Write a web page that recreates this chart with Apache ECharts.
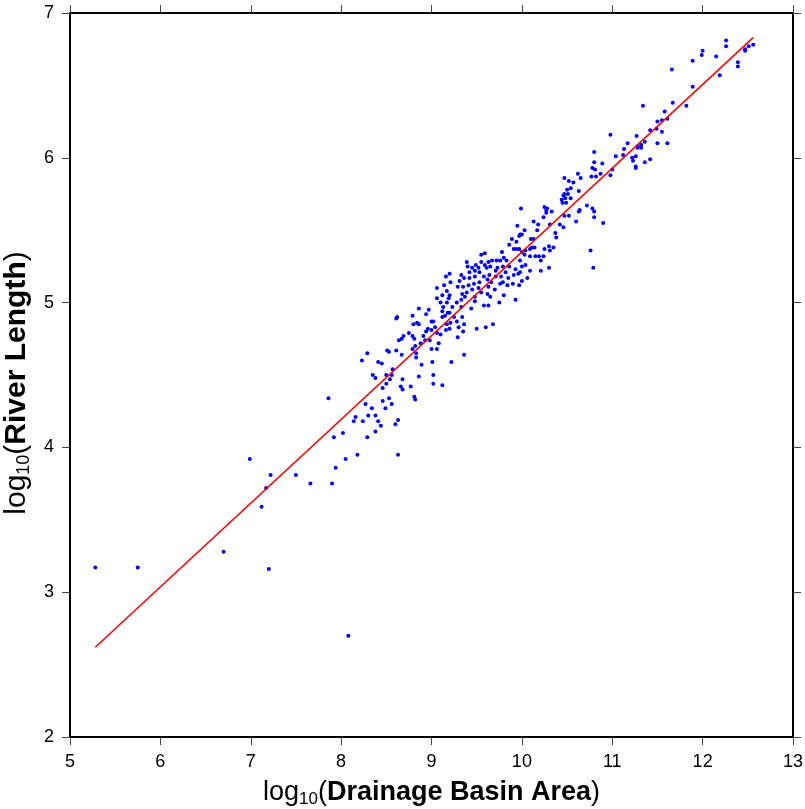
<!DOCTYPE html>
<html>
<head>
<meta charset="utf-8">
<script src="https://cdn.jsdelivr.net/npm/echarts@6/dist/echarts.min.js"></script>
<style>html,body{margin:0;padding:0;background:#fff}#c{width:805px;height:809px}</style>
</head>
<body>
<div id="c"></div>
<script>
// log10(Drainage Basin Area), log10(River Length) observations
const basinLength = [
[5.28,3.17],[5.75,3.17],[6.70,3.28],[6.99,3.92],[7.22,3.81],[7.17,3.72],[7.12,3.59],[7.20,3.16],[7.50,3.81],[7.66,3.75],[8.08,2.70],
[7.90,3.75],[7.94,3.86],[8.05,3.92],[8.18,3.95],[7.86,4.34],[7.92,4.07],[8.02,4.10],[8.29,4.07],[8.38,4.11],[8.44,4.15],[8.41,4.18],[8.38,4.22],[8.30,4.22],[8.24,4.18],[8.14,4.18],[8.16,4.21],[8.27,4.30],[8.34,4.27],[8.49,4.27],[8.46,4.32],[8.56,4.30],[8.60,4.16],[8.63,4.19],[8.63,3.95],[8.82,4.33],
[8.23,4.60],[8.29,4.65],[8.35,4.50],[8.38,4.48],[8.41,4.59],[8.45,4.58],[8.51,4.67],[8.53,4.66],[8.57,4.54],[8.56,4.50],[8.50,4.50],[8.54,4.47],[8.50,4.44],[8.46,4.41],[8.53,4.34],[8.66,4.42],[8.68,4.40],[8.68,4.47],[8.67,4.64],[8.61,4.67],
[8.67,4.75],[8.64,4.74],[8.62,4.90],[8.61,4.89],[8.69,4.77],[8.75,4.79],[8.79,4.77],[8.81,4.75],[8.79,4.68],[8.82,4.70],[8.83,4.65],[8.83,4.62],[8.77,4.42],[8.81,4.35],[8.86,4.49],[8.89,4.57],[8.88,4.72],[8.93,4.74],[8.91,4.77],[8.98,4.74],
[8.94,4.80],[8.96,4.82],[8.80,4.85],[8.84,4.86],[8.86,4.85],[8.86,4.96],[8.79,4.91],[8.94,4.92],[8.97,4.95],[9.00,4.87],[9.02,4.87],[9.04,4.83],[9.00,4.81],[9.06,4.79],[9.08,4.72],[9.00,4.68],[9.06,4.68],[9.01,4.59],[9.02,4.50],[9.02,4.44],
[9.12,4.43],[9.22,4.59],[9.10,4.78],[9.16,4.81],[9.20,4.82],[9.17,4.85],[9.21,4.86],[9.12,4.90],[9.15,4.91],[9.12,4.94],[9.18,4.93],[9.20,4.93],[9.25,4.90],[9.28,4.87],[9.29,4.76],[9.35,4.80],[9.36,4.64],[9.34,4.90],[9.36,4.85],[9.30,4.83],
[9.28,5.00],[9.33,4.97],[9.23,4.97],[9.13,4.97],[9.10,5.00],[9.06,5.03],[9.12,5.05],[9.17,5.00],[9.17,5.08],[9.19,5.03],[9.20,5.05],[9.21,5.14],[9.14,5.12],[9.06,5.10],[9.16,5.18],[9.20,5.20],[9.29,5.11],[9.31,5.15],[9.33,5.02],[9.44,4.96],[9.48,5.01],
[9.50,4.82],[9.60,4.83],[9.68,4.85],[9.75,5.00],[9.63,4.98],[9.58,4.98],
[10.80,6.04],[11.04,6.01],[10.80,5.97],[10.89,5.96],[10.78,5.93],[10.81,5.92],[11.00,5.92],[10.87,5.89],[10.77,5.87],[10.82,5.87],[10.98,5.88],[10.62,5.89],[10.65,5.86],[10.47,5.86],[10.52,5.84],[10.57,5.83],[10.54,5.79],[10.50,5.78],[10.63,5.77],
[10.47,5.75],[10.46,5.74],[10.51,5.75],[10.44,5.71],[10.48,5.72],[10.45,5.69],[10.49,5.69],[10.54,5.72],[10.72,5.67],[10.64,5.64],[10.63,5.63],[10.78,5.65],[10.80,5.63],[10.80,5.59],[10.90,5.55],[10.60,5.56],[10.52,5.60],[10.47,5.60],
[10.33,5.63],[10.25,5.66],[10.28,5.65],[10.27,5.64],[10.27,5.62],[9.99,5.65],[10.24,5.59],[10.18,5.54],[10.13,5.56],[10.31,5.54],[10.42,5.54],[10.46,5.52],[10.37,5.48],[10.17,5.50],[10.03,5.50],[9.95,5.53],[9.98,5.47],[9.97,5.46],[10.00,5.47],
[10.13,5.44],[10.38,5.45],[9.89,5.44],[9.86,5.40],[9.94,5.42],[10.10,5.44],[10.11,5.38],[10.14,5.38],[10.09,5.37],[10.25,5.37],[10.30,5.39],[10.31,5.36],[10.35,5.38],[10.04,5.36],[9.97,5.37],[9.91,5.37],[9.94,5.37],[10.00,5.35],[9.78,5.35],
[9.55,5.33],[9.59,5.34],[9.72,5.29],[9.76,5.29],[9.80,5.31],[9.83,5.29],[9.67,5.29],[9.63,5.28],[9.59,5.26],[9.55,5.28],[9.98,5.29],[10.03,5.33],[10.09,5.32],[10.15,5.32],[10.19,5.32],[10.21,5.29],[10.24,5.32],[10.76,5.36],[10.79,5.24],
[10.30,5.24],[10.21,5.22],[10.09,5.22],[10.04,5.26],[10.00,5.25],[9.93,5.23],[9.86,5.25],[9.79,5.25],[9.73,5.24],[9.71,5.22],[9.65,5.25],[9.61,5.24],[9.52,5.24],[9.49,5.26],[9.45,5.24],[9.40,5.25],[9.39,5.28],[9.48,5.22],[9.42,5.21],
[9.33,5.19],[9.36,5.17],[9.42,5.17],[9.48,5.18],[9.53,5.21],[9.58,5.18],[9.64,5.19],[9.71,5.18],[9.77,5.18],[9.82,5.21],[9.85,5.17],[9.91,5.19],[9.96,5.20],[9.98,5.21],[10.06,5.17],[9.79,5.14],[9.76,5.13],[9.66,5.14],[9.62,5.16],
[9.53,5.14],[9.47,5.13],[9.41,5.12],[9.35,5.11],[9.84,5.12],[9.90,5.13],[9.97,5.12],[10.00,5.15],[9.63,5.11],[9.52,5.10],[9.45,5.09],[9.39,5.07],[9.34,5.06],[9.55,5.07],[9.62,5.06],[9.70,5.09],[9.80,5.05],[9.93,5.02],[9.65,5.04],[9.48,5.04],[9.37,5.04],
[12.26,6.81],[12.26,6.77],[12.47,6.75],[12.47,6.74],[12.51,6.77],[12.56,6.78],[12.00,6.74],[11.99,6.71],[12.15,6.70],[11.89,6.67],[12.39,6.66],[12.39,6.63],[12.19,6.57],[11.66,6.61],[11.89,6.49],[11.67,6.38],[11.82,6.36],[11.34,6.36],
[11.58,6.32],[11.50,6.25],[11.55,6.26],[11.61,6.27],[11.42,6.19],[11.49,6.20],[11.55,6.18],[11.61,6.10],[11.50,6.10],[10.98,6.16],[11.17,6.10],[11.27,6.15],[11.36,6.11],[11.32,6.09],[11.28,6.08],[11.28,6.07],[11.32,6.07],[11.13,6.06],
[11.12,6.02],[11.22,6.00],[11.26,6.01],[11.23,5.98],[11.26,5.94],[11.26,5.93],[11.36,5.97],[11.42,5.99]
];
// least-squares fit line end points
const fitArea = [5.28, 12.56];
const fitLength = [2.62, 6.83];
const xRange = [5, 13];
const yRange = [2, 7];

const fitData = fitArea.map((x, i) => [x, fitLength[i]]);
const FONT = 'Liberation Sans';
const frameLine = {show: true, onZero: false, lineStyle: {color: '#000', width: 2}};
const ticks = {show: true, inside: false, length: 8, lineStyle: {color: '#444', width: 1}};
const richX = {
  a: {fontSize: 27, fontFamily: FONT, color: '#000'},
  s: {fontSize: 17, fontFamily: FONT, color: '#000', padding: [14, 0, 0, 0]},
  b: {fontSize: 27, fontFamily: FONT, color: '#000', fontWeight: 'bold'}
};
const richY = {
  a: {fontSize: 30, fontFamily: FONT, color: '#000'},
  s: {fontSize: 18, fontFamily: FONT, color: '#000', padding: [15, 0, 0, 0]},
  b: {fontSize: 30, fontFamily: FONT, color: '#000', fontWeight: 'bold'}
};
const chart = echarts.init(document.getElementById('c'));
chart.setOption({
  animation: false,
  grid: {left: 70, top: 13, right: 12, bottom: 72, containLabel: false, outerBoundsMode: 'none'},
  xAxis: [
    {type: 'value', min: xRange[0], max: xRange[1], interval: 1, position: 'bottom',
     axisLine: frameLine, axisTick: ticks, splitLine: {show: false},
     axisLabel: {margin: 16, fontSize: 18, color: '#000', fontFamily: FONT},
     name: '{a|log}{s|10}{a|(}{b|Drainage Basin Area}{a|)}', nameLocation: 'middle', nameGap: 40,
     nameTextStyle: {rich: richX}},
    {type: 'value', min: xRange[0], max: xRange[1], interval: 1, position: 'top',
     axisLine: frameLine, axisTick: ticks, splitLine: {show: false}, axisLabel: {show: false}}
  ],
  yAxis: [
    {type: 'value', min: yRange[0], max: yRange[1], interval: 1, position: 'left',
     axisLine: frameLine, axisTick: ticks, splitLine: {show: false},
     axisLabel: {margin: 16, fontSize: 18, color: '#000', fontFamily: FONT},
     name: '{a|log}{s|10}{a|(}{b|River Length}{a|)}', nameLocation: 'middle', nameGap: 28, nameRotate: 90,
     nameTextStyle: {rich: richY, padding: [0, 16, 0, 0]}},
    {type: 'value', min: yRange[0], max: yRange[1], interval: 1, position: 'right',
     axisLine: frameLine, axisTick: ticks, splitLine: {show: false}, axisLabel: {show: false}}
  ],
  series: [
    {type: 'scatter', data: basinLength, symbolSize: 4, itemStyle: {color: '#0000ff', opacity: 1}},
    {type: 'line', data: fitData, showSymbol: false, lineStyle: {color: '#ff0000', width: 1.6}}
  ]
});
</script>
</body>
</html>
